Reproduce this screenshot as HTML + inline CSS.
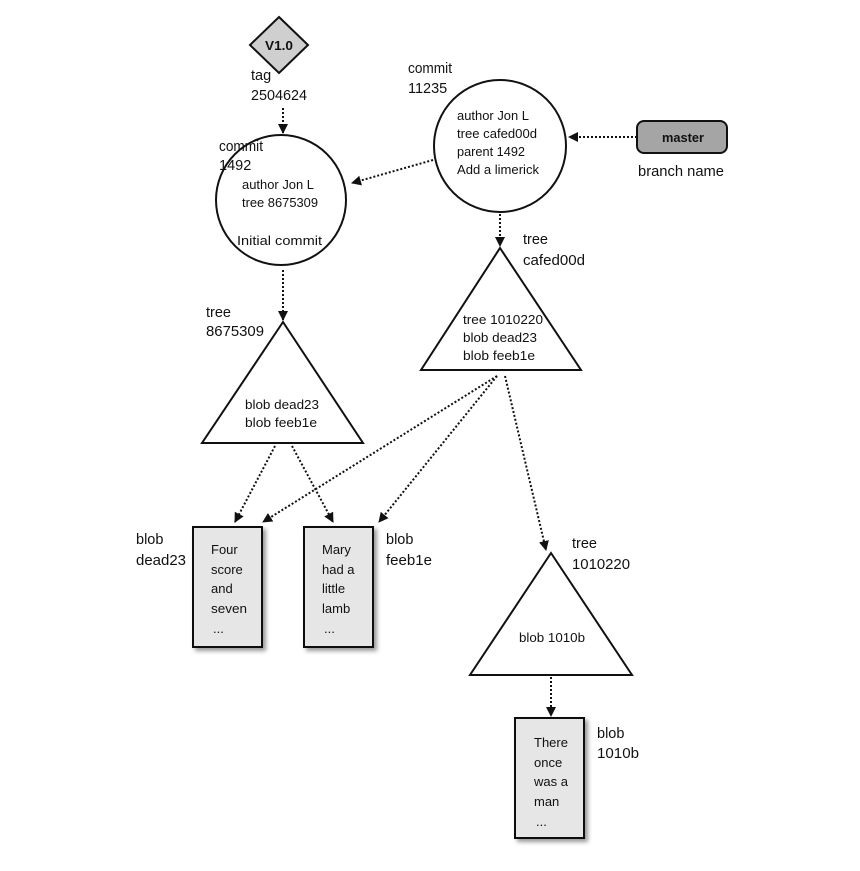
<!DOCTYPE html>
<html><head><meta charset="utf-8"><style>
html,body{margin:0;padding:0;background:#fff}
svg{display:block}
text{font-family:"Liberation Sans Narrow","Liberation Sans",sans-serif;font-size:13px;fill:#111}
.lb{font-size:14.5px}
</style></head><body>
<svg width="860" height="871" viewBox="0 0 860 871" xmlns="http://www.w3.org/2000/svg">
<defs>
<marker id="a" markerWidth="10" markerHeight="10" refX="9" refY="5" orient="auto" markerUnits="userSpaceOnUse">
<path d="M0,0 L10,5 L0,10 z" fill="#111"/></marker>
<filter id="sh" x="-20%" y="-20%" width="150%" height="150%"><feDropShadow dx="3" dy="3" stdDeviation="2" flood-color="#999"/></filter>
</defs>
<g stroke="#111" stroke-width="2" stroke-dasharray="2 2" fill="none" marker-end="url(#a)">
<line x1="283" y1="108" x2="283" y2="133"/>
<line x1="637" y1="137" x2="569" y2="137"/>
<line x1="433" y1="160" x2="352" y2="183"/>
<line x1="500" y1="214" x2="500" y2="246"/>
<line x1="283" y1="270" x2="283" y2="320"/>
<line x1="275" y1="446" x2="235" y2="522"/>
<line x1="292" y1="446" x2="333" y2="522"/>
<line x1="497" y1="376" x2="263" y2="522"/>
<line x1="497" y1="376" x2="379" y2="522"/>
<line x1="505" y1="376" x2="546" y2="550"/>
<line x1="551" y1="677" x2="551" y2="716"/>
</g>
<polygon points="279,17 308,45 279,73 250,45" fill="#cfcfcf" stroke="#111" stroke-width="2"/>
<text x="265" y="50" font-weight="bold" textLength="28" lengthAdjust="spacingAndGlyphs">V1.0</text>
<text class="lb" x="251" y="80">tag</text>
<text class="lb" x="251" y="100" textLength="56" lengthAdjust="spacingAndGlyphs">2504624</text>

<circle cx="281" cy="200" r="65" fill="#fff" stroke="#111" stroke-width="2"/>
<text class="lb" x="219" y="151" textLength="44" lengthAdjust="spacingAndGlyphs">commit</text>
<text class="lb" x="219" y="170">1492</text>
<text x="242" y="189" textLength="72" lengthAdjust="spacingAndGlyphs">author Jon L</text>
<text x="242" y="207" textLength="76" lengthAdjust="spacingAndGlyphs">tree 8675309</text>
<text x="237" y="245" textLength="85" lengthAdjust="spacingAndGlyphs">Initial commit</text>

<circle cx="500" cy="146" r="66" fill="#fff" stroke="#111" stroke-width="2"/>
<text class="lb" x="408" y="73" textLength="44" lengthAdjust="spacingAndGlyphs">commit</text>
<text class="lb" x="408" y="93">11235</text>
<text x="457" y="120" textLength="72" lengthAdjust="spacingAndGlyphs">author Jon L</text>
<text x="457" y="138" textLength="80" lengthAdjust="spacingAndGlyphs">tree cafed00d</text>
<text x="457" y="156" textLength="68" lengthAdjust="spacingAndGlyphs">parent 1492</text>
<text x="457" y="174" textLength="82" lengthAdjust="spacingAndGlyphs">Add a limerick</text>

<rect x="637" y="121" width="90" height="32" rx="7" fill="#a5a5a5" stroke="#111" stroke-width="2"/>
<text x="662" y="142" font-weight="bold" textLength="42" lengthAdjust="spacingAndGlyphs">master</text>
<text class="lb" x="638" y="176" textLength="86" lengthAdjust="spacingAndGlyphs">branch name</text>

<polygon points="500,248 581,370 421,370" fill="#fff" stroke="#111" stroke-width="2"/>
<text class="lb" x="523" y="244">tree</text>
<text class="lb" x="523" y="265" textLength="62" lengthAdjust="spacingAndGlyphs">cafed00d</text>
<text x="463" y="324" textLength="80" lengthAdjust="spacingAndGlyphs">tree 1010220</text>
<text x="463" y="342" textLength="74" lengthAdjust="spacingAndGlyphs">blob dead23</text>
<text x="463" y="360" textLength="72" lengthAdjust="spacingAndGlyphs">blob feeb1e</text>

<polygon points="283,322 363,443 202,443" fill="#fff" stroke="#111" stroke-width="2"/>
<text class="lb" x="206" y="317">tree</text>
<text class="lb" x="206" y="336" textLength="58" lengthAdjust="spacingAndGlyphs">8675309</text>
<text x="245" y="409" textLength="74" lengthAdjust="spacingAndGlyphs">blob dead23</text>
<text x="245" y="427" textLength="72" lengthAdjust="spacingAndGlyphs">blob feeb1e</text>

<rect x="193" y="527" width="69" height="120" fill="#e6e6e6" stroke="#111" stroke-width="2" filter="url(#sh)"/>
<text x="211" y="554">Four</text><text x="211" y="574">score</text><text x="211" y="593">and</text><text x="211" y="613" textLength="36" lengthAdjust="spacingAndGlyphs">seven</text><text x="213" y="633">...</text>
<text class="lb" x="136" y="544">blob</text><text class="lb" x="136" y="565" textLength="50" lengthAdjust="spacingAndGlyphs">dead23</text>

<rect x="304" y="527" width="69" height="120" fill="#e6e6e6" stroke="#111" stroke-width="2" filter="url(#sh)"/>
<text x="322" y="554">Mary</text><text x="322" y="574">had a</text><text x="322" y="593">little</text><text x="322" y="613">lamb</text><text x="324" y="633">...</text>
<text class="lb" x="386" y="544">blob</text><text class="lb" x="386" y="565" textLength="46" lengthAdjust="spacingAndGlyphs">feeb1e</text>

<polygon points="551,553 632,675 470,675" fill="#fff" stroke="#111" stroke-width="2"/>
<text class="lb" x="572" y="548">tree</text>
<text class="lb" x="572" y="569" textLength="58" lengthAdjust="spacingAndGlyphs">1010220</text>
<text x="519" y="642" textLength="66" lengthAdjust="spacingAndGlyphs">blob 1010b</text>

<rect x="515" y="718" width="69" height="120" fill="#e6e6e6" stroke="#111" stroke-width="2" filter="url(#sh)"/>
<text x="534" y="747">There</text><text x="534" y="767">once</text><text x="534" y="786">was a</text><text x="534" y="806">man</text><text x="536" y="826">...</text>
<text class="lb" x="597" y="738">blob</text><text class="lb" x="597" y="758" textLength="42" lengthAdjust="spacingAndGlyphs">1010b</text>
</svg>
</body></html>
